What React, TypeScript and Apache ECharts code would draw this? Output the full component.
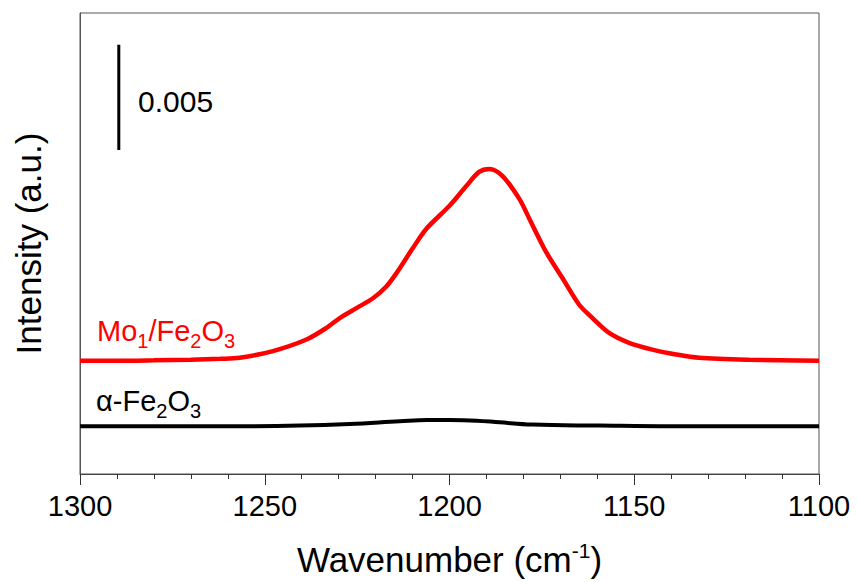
import React, { useEffect, useRef } from "react";
import * as echarts from "echarts";

const redWavenumbers = [1300, 1290, 1280, 1270, 1262, 1256.8, 1247.8, 1238.7, 1233.3, 1229.7, 1225.2, 1220.7, 1217.1, 1214.4, 1210, 1206.2, 1200, 1195.4, 1192, 1189.2, 1185.7, 1181.1, 1178.4, 1173.9, 1169.4, 1164.9, 1161.3, 1156.8, 1151.4, 1145.1, 1138.7, 1132.4, 1118.9, 1100];
const redValues = [0.00538, 0.00538, 0.0054, 0.00543, 0.00547, 0.00552, 0.00584, 0.00639, 0.00694, 0.00741, 0.00788, 0.00835, 0.00891, 0.00953, 0.01071, 0.01166, 0.01274, 0.01369, 0.01435, 0.01449, 0.01416, 0.01307, 0.01213, 0.01056, 0.0093, 0.00804, 0.00741, 0.0067, 0.00623, 0.00591, 0.00568, 0.00552, 0.00543, 0.00538];

const blackWavenumbers = [1300, 1260, 1240.5, 1227, 1213.5, 1206, 1200, 1192.7, 1186.5, 1177.6, 1159.5, 1140, 1100];
const blackValues = [0.002266, 0.002266, 0.0023, 0.002374, 0.002502, 0.002563, 0.002563, 0.002535, 0.002454, 0.002346, 0.0023, 0.002266, 0.002266];

const scaleBarX = [1289.5, 1289.5];
const scaleBarY = [0.01539, 0.02039];
const scaleBarLabel = "0.005";

const xTicks = [1300, 1250, 1200, 1150, 1100];

export default function App() {
  const ref = useRef<HTMLDivElement>(null);
  useEffect(() => {
    if (!ref.current) return;
    const chart = echarts.init(ref.current, null, { renderer: "svg" });
    const font = "Liberation Sans, Arial, sans-serif";
    chart.setOption({
      animation: false,
      grid: { left: 80, right: 39, top: 13, bottom: 105, show: true, borderColor: "#555", borderWidth: 1 },
      xAxis: {
        type: "value",
        inverse: true,
        min: 1100,
        max: 1300,
        interval: 50,
        name: "Wavenumber (cm{sup|-1})",
        nameLocation: "middle",
        nameGap: 66,
        nameTextStyle: {
          fontFamily: font,
          fontSize: 35,
          color: "#000",
          rich: { sup: { fontFamily: font, fontSize: 21, color: "#000", verticalAlign: "top", padding: [0, 0, 18, 0] } },
        },
        axisLine: { show: true, onZero: false, lineStyle: { color: "#444", width: 1 } },
        axisTick: { show: true, inside: false, length: 11, lineStyle: { color: "#333", width: 1 } },
        minorTick: { show: true, splitNumber: 5, length: 5, lineStyle: { color: "#333", width: 1 } },
        axisLabel: {
          fontFamily: font,
          fontSize: 29,
          color: "#000",
          margin: 17,
          formatter: (v: number) => (xTicks.includes(v) ? String(v) : ""),
        },
        splitLine: { show: false },
      },
      yAxis: {
        type: "value",
        min: 0,
        max: 0.0219,
        name: "Intensity (a.u.)",
        nameLocation: "middle",
        nameGap: 34,
        nameTextStyle: { fontFamily: font, fontSize: 35, color: "#000" },
        axisLine: { show: true, lineStyle: { color: "#555", width: 1 } },
        axisTick: { show: false },
        axisLabel: { show: false },
        splitLine: { show: false },
      },
      series: [
        {
          type: "line",
          data: redWavenumbers.map((w, i) => [w, redValues[i]]),
          smooth: 0.3,
          showSymbol: false,
          lineStyle: { color: "#ff0000", width: 4.5 },
        },
        {
          type: "line",
          data: blackWavenumbers.map((w, i) => [w, blackValues[i]]),
          smooth: 0.4,
          showSymbol: false,
          lineStyle: { color: "#000", width: 4 },
        },
        {
          type: "line",
          data: scaleBarX.map((w, i) => [w, scaleBarY[i]]),
          showSymbol: false,
          lineStyle: { color: "#000", width: 3 },
        },
      ],
      graphic: [
        {
          type: "text",
          left: 138,
          top: 86,
          style: { text: scaleBarLabel, fontFamily: font, fontSize: 30, fill: "#000" },
        },
        {
          type: "text",
          left: 97,
          top: 316,
          style: {
            text: "Mo{sub|1}/Fe{sub|2}O{sub|3}",
            fontFamily: font,
            fontSize: 29,
            fill: "#ff0000",
            rich: { sub: { fontFamily: font, fontSize: 20, fill: "#ff0000", padding: [20, 0, 0, 0] } },
          },
        },
        {
          type: "text",
          left: 96,
          top: 386,
          style: {
            text: "α-Fe{sub|2}O{sub|3}",
            fontFamily: font,
            fontSize: 29,
            fill: "#000",
            rich: { sub: { fontFamily: font, fontSize: 20, fill: "#000", padding: [20, 0, 0, 0] } },
          },
        },
      ],
    });
    return () => chart.dispose();
  }, []);
  return <div ref={ref} style={{ width: 858, height: 582, position: "absolute", left: 0, top: 0 }} />;
}
